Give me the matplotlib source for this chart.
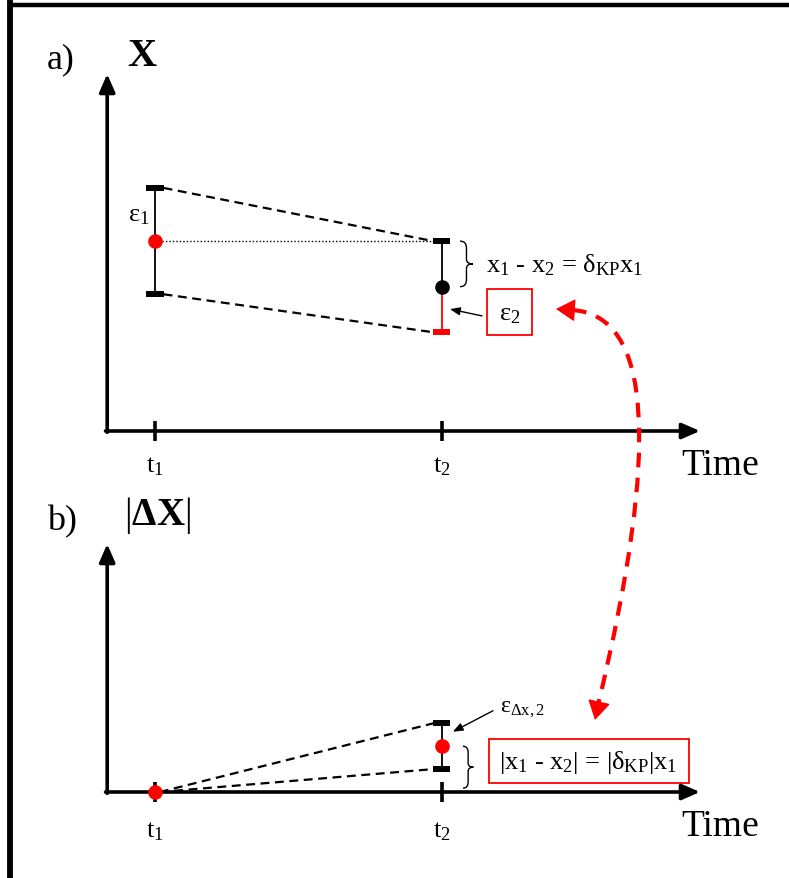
import numpy as np
import matplotlib
matplotlib.use('Agg')
import matplotlib.pyplot as plt
from matplotlib.path import Path
from matplotlib.patches import PathPatch, Rectangle

plt.rcParams['font.family'] = ['Liberation Serif', 'DejaVu Serif']
plt.rcParams['mathtext.fontset'] = 'custom'
plt.rcParams['mathtext.rm'] = 'Liberation Serif'
plt.rcParams['mathtext.it'] = 'Liberation Serif:italic'
plt.rcParams['mathtext.bf'] = 'Liberation Serif:bold'

# schematic values
t_ticks = [1, 7]                      # t1, t2
t_labels = [r'$\mathrm{t}_1$', r'$\mathrm{t}_2$']
x_vals = [5.0, 3.8]                   # x1 (at t1), x2 (at t2)
eps1 = 1.4                            # error at t1
eps2 = 1.2                            # error at t2
dx_vals = [0.0, 1.2]                  # |dX| at t1, t2
eps_dx2 = 0.6                         # error of |dX| at t2

xmax = 12.4
ymax_a = 9.4
ymax_b = 6.5
cap = 0.18

W, H = 789, 879
fig = plt.figure(figsize=(W / 100, H / 100), dpi=100)


def px_axes(left, top, right, bottom):
    return fig.add_axes([left / W, 1 - bottom / H, (right - left) / W, (bottom - top) / H])


def brace(ax, x0, y0, y1, w, lw=1.0):
    # right facing curly brace between y0 and y1
    h = y1 - y0
    ym = (y0 + y1) / 2
    xm = x0 + w / 2
    verts = [(x0, y1), (xm, y1), (xm, y1 - 0.15 * h),
             (xm, ym + 0.1 * h),
             (xm, ym), (x0 + w, ym),
             (xm, ym), (xm, ym - 0.1 * h),
             (xm, y0 + 0.15 * h),
             (xm, y0), (x0, y0)]
    codes = [Path.MOVETO, Path.CURVE3, Path.CURVE3,
             Path.LINETO,
             Path.CURVE3, Path.CURVE3,
             Path.CURVE3, Path.CURVE3,
             Path.LINETO,
             Path.CURVE3, Path.CURVE3]
    ax.add_patch(PathPatch(Path(verts, codes), fill=False, lw=lw, color='k', clip_on=False))


def capbar(ax, t, y, color):
    ax.plot([t - cap, t + cap], [y, y], color=color, lw=4.3, solid_capstyle='butt', clip_on=False, zorder=4)


ax_a = px_axes(107.2, 75, 700, 432)
ax_b = px_axes(107.2, 545, 700, 793)

for ax, ymax, ty in ((ax_a, ymax_a, -0.92), (ax_b, ymax_b, -1.02)):
    ax.set_xlim(0, xmax)
    ax.set_ylim(0, ymax)
    ax.axis('off')
    ap = dict(arrowstyle='-|>,head_length=0.8,head_width=0.35', color='k', lw=2.6,
              shrinkA=0, shrinkB=0, mutation_scale=13.5)
    ax.annotate('', xy=(xmax, 0), xytext=(-0.035, 0), arrowprops=ap, annotation_clip=False)
    ax.annotate('', xy=(0, ymax), xytext=(0, -0.035), arrowprops=ap, annotation_clip=False)
    for t, lab in zip(t_ticks, t_labels):
        ax.plot([t, t], [-0.27, 0.27], color='k', lw=2.6, solid_capstyle='butt', clip_on=False)
        ax.text(t, ty, lab, ha='center', va='center', fontsize=19)

t1, t2 = t_ticks
x1, x2 = x_vals
dash = (0, (4, 2.5))
small_arrow = dict(arrowstyle='-|>,head_length=0.5,head_width=0.2', color='k', lw=1,
                   shrinkA=0, shrinkB=0, mutation_scale=12)

# panel a
ax_a.plot([t1, t1], [x1 - eps1, x1 + eps1], color='k', lw=1.3)
capbar(ax_a, t1, x1 + eps1, 'k')
capbar(ax_a, t1, x1 - eps1, 'k')
ax_a.plot(t1, x1, 'o', color='red', ms=9.5, zorder=5)
ax_a.plot([t2, t2], [x2, x2 + eps2], color='k', lw=1.3)
ax_a.plot([t2, t2], [x2 - eps2, x2], color='red', lw=1.3)
capbar(ax_a, t2, x2 + eps2, 'k')
capbar(ax_a, t2, x2 - eps2, 'red')
ax_a.plot(t2, x2, 'o', color='k', ms=9.5, zorder=5)
ax_a.plot([t1 + cap, t2 - cap], [x1 + eps1, x2 + eps2], color='k', lw=1.6, ls=dash)
ax_a.plot([t1 + cap, t2 - cap], [x1 - eps1, x2 - eps2], color='k', lw=1.6, ls=dash)
ax_a.plot([t1, t2 - cap], [x1, x1], color='k', lw=1.0, ls=(0, (1, 1.5)))
ax_a.text(0.66, 5.7, r'$\mathrm{ε}_1$', ha='center', va='center', fontsize=19)
brace(ax_a, 7.38, x2, x1, 0.27)
ax_a.text(7.92, 4.39, r'$\mathrm{x}_1$ - $\mathrm{x}_2$ = $\mathrm{δ}_{\mathrm{KP}}\mathrm{x}_1$',
          ha='left', va='center', fontsize=19)
ax_a.add_patch(Rectangle((7.94, 2.53), 0.94, 1.21, fill=False, ec='red', lw=1.3, clip_on=False))
ax_a.text(8.41, 3.08, r'$\mathrm{ε}_2$', ha='center', va='center', fontsize=19)
ax_a.annotate('', xy=(7.17, 3.21), xytext=(7.84, 3.03), arrowprops=small_arrow)

# panel b
d1, d2 = dx_vals
ax_b.plot([t1 + 0.1, t2 - cap], [d1, d2 + eps_dx2], color='k', lw=1.6, ls=dash)
ax_b.plot([t1 + 0.1, t2 - cap], [d1, d2 - eps_dx2], color='k', lw=1.6, ls=dash)
ax_b.plot(t1, d1, 'o', color='red', ms=9.5, zorder=5, clip_on=False)
ax_b.plot([t2, t2], [d2 - eps_dx2, d2 + eps_dx2], color='k', lw=1.3)
capbar(ax_b, t2, d2 + eps_dx2, 'k')
capbar(ax_b, t2, d2 - eps_dx2, 'k')
ax_b.plot(t2, d2, 'o', color='red', ms=9.5, zorder=5)
ax_b.text(8.22, 2.2, r'$\mathrm{ε}_{\mathrm{Δx,2}}$', ha='left', va='center', fontsize=17)
ax_b.annotate('', xy=(7.23, 1.58), xytext=(8.07, 2.13), arrowprops=small_arrow)
brace(ax_b, 7.44, 0.1, d2, 0.22)
ax_b.add_patch(Rectangle((7.98, 0.24), 4.2, 1.15, fill=False, ec='red', lw=1.3, clip_on=False))
ax_b.text(10.06, 0.8, r'|$\mathrm{x}_1$ - $\mathrm{x}_2$| = |$\mathrm{δ}_{\mathrm{KP}}$|$\mathrm{x}_1$',
          ha='center', va='center', fontsize=19)

# overlay in pixel coordinates: frame, panel labels, curved arrow
ov = fig.add_axes([0, 0, 1, 1])
ov.set_xlim(0, W)
ov.set_ylim(H, 0)
ov.axis('off')
ov.plot([10.5, 10.5], [0, H], color='k', lw=4.2, solid_capstyle='butt')
ov.plot([8, W], [6, 6], color='k', lw=3.2, solid_capstyle='butt')

ov.text(61, 60, 'a)', ha='center', va='center', fontsize=26)
ov.text(142, 57, 'X', ha='center', va='center', fontsize=29, fontweight='bold')
ov.text(720, 466, 'Time', ha='center', va='center', fontsize=27)
ov.text(62, 522, 'b)', ha='center', va='center', fontsize=26)
ov.text(157, 516, r'$|\mathbf{ΔX}|$', ha='center', va='center', fontsize=28)
ov.text(720, 827, 'Time', ha='center', va='center', fontsize=27)

# dashed red curve with solid heads at both ends
curve = Path([(572, 311), (692, 318), (598, 706)], [Path.MOVETO, Path.CURVE3, Path.CURVE3])
ov.add_patch(PathPatch(curve, fill=False, ec='red', lw=3, ls=(0, (3.5, 2.5))))
red_head = dict(arrowstyle='-|>,head_length=1.1,head_width=0.65', color='red', lw=1,
                shrinkA=0, shrinkB=0, mutation_scale=11)
ov.annotate('', xy=(556, 310), xytext=(576, 311.3), arrowprops=red_head)
ov.annotate('', xy=(595, 721), xytext=(599, 703), arrowprops=red_head)

fig.savefig('out.png', dpi=100)
